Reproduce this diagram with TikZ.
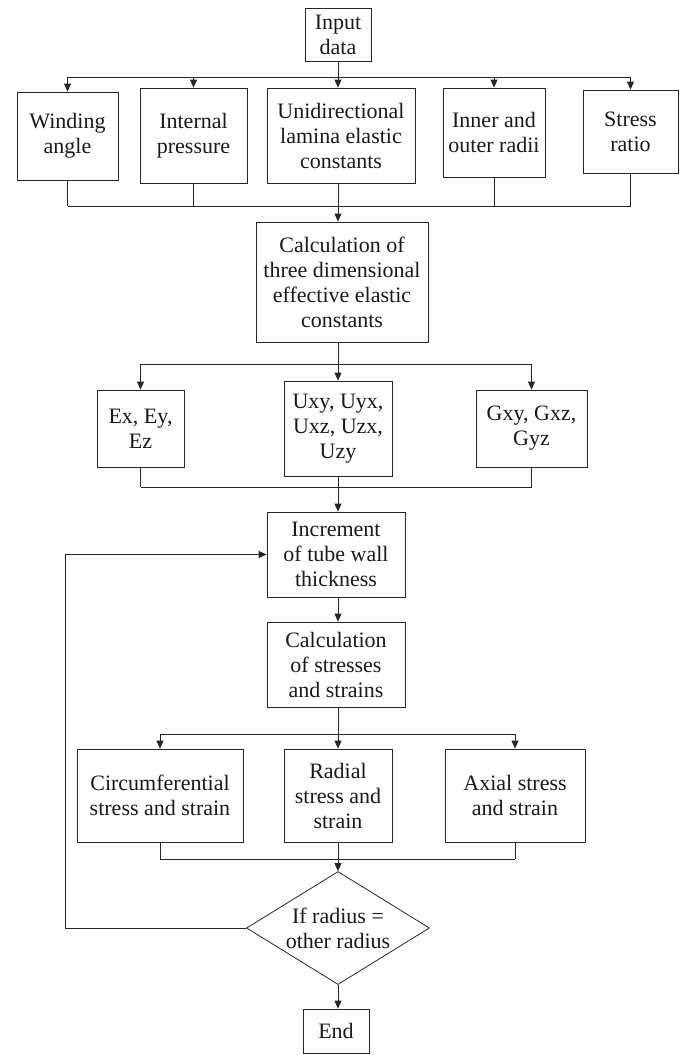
\documentclass[tikz,border=0pt]{standalone}
\usepackage{fontspec}
\setmainfont{Liberation Serif}
\usetikzlibrary{arrows.meta,shapes.geometric}
\begin{document}
\begin{tikzpicture}[x=1pt,y=-1pt,
  conn/.style={draw=black!85, line width=0.8pt},
  arr/.style={conn, -{Triangle[length=8pt,width=7pt]}},
  box/.style={draw=black!85, line width=0.8pt, rectangle, align=center, inner sep=0pt,
    font=\fontsize{22}{25}\selectfont, text=black!90},
  decbox/.style={draw=black!85, line width=0.8pt, diamond, inner sep=0pt,
    minimum width=183pt, minimum height=113pt},
  dectext/.style={align=center, inner sep=0pt, font=\fontsize{22}{25}\selectfont, text=black!90}]
\useasboundingbox (0,0) rectangle (687,1055);
% nodes
\node[box, minimum width=66pt, minimum height=53pt] (inp) at (338,34.5) {Input\\data};
\node[box, minimum width=101pt, minimum height=88pt] (wa) at (67.5,136) {Winding\\angle};
\node[box, minimum width=107pt, minimum height=95pt] (ip) at (193.5,135.5) {Internal\\pressure};
\node[box, minimum width=148pt, minimum height=95pt] (ul) at (341,135.5) {Unidirectional\\lamina elastic\\constants};
\node[box, minimum width=102pt, minimum height=89pt] (io) at (494,132.5) {Inner and\\outer radii};
\node[box, minimum width=95pt, minimum height=83pt] (sr) at (630.5,131.5) {Stress\\ratio};
\node[box, minimum width=172pt, minimum height=120pt] (calc) at (342,282) {Calculation of\\three dimensional\\effective elastic\\constants};
\node[box, minimum width=87pt, minimum height=77pt] (ex) at (140.5,428.5) {Ex, Ey,\\Ez};
\node[box, minimum width=108pt, minimum height=95pt] (uxy) at (338,428.5) {Uxy, Uyx,\\Uxz, Uzx,\\Uzy};
\node[box, minimum width=111pt, minimum height=77pt] (gxy) at (531.5,428.5) {Gxy, Gxz,\\Gyz};
\node[box, minimum width=138pt, minimum height=85pt] (inc) at (336,554.5) {Increment\\of tube wall\\thickness};
\node[box, minimum width=138pt, minimum height=85pt] (cs) at (336,664.5) {Calculation\\of stresses\\and strains};
\node[box, minimum width=166pt, minimum height=93pt] (circ) at (160,795.5) {Circumferential\\stress and strain};
\node[box, minimum width=108pt, minimum height=93pt] (rad) at (338,795.5) {Radial\\stress and\\strain};
\node[box, minimum width=140pt, minimum height=93pt] (ax) at (515,795.5) {Axial stress\\and strain};
\node[decbox] (dec) at (338,928) {};
\node[dectext] (dect) at (338,928) {If radius =\\other radius};
\node[box, minimum width=66pt, minimum height=44pt] (end) at (336,1031) {End};
% helper coordinates
\coordinate (d1) at (338,77);
\coordinate (c1) at (338,206);
\coordinate (d2) at (338,364);
\coordinate (c2) at (338,487);
\coordinate (d3) at (338,734);
\coordinate (c3) at (338,859);
\coordinate (lp) at (65,928);
% input distribution
\draw[conn] (d1 |- inp.south) -- (d1);
\draw[conn] (wa.north |- d1) -- (sr.north |- d1);
\foreach \n in {wa,ip,io,sr} \draw[arr] (\n.north |- d1) -- (\n.north);
\draw[arr] (d1) -- (d1 |- ul.north);
% collector 1
\foreach \n in {wa,ip,io,sr} \draw[conn] (\n.south) -- (\n.south |- c1);
\draw[conn] (c1 |- ul.south) -- (c1);
\draw[conn] (wa.south |- c1) -- (sr.south |- c1);
\draw[arr] (c1) -- (c1 |- calc.north);
% distribution 2
\draw[conn] (d2 |- calc.south) -- (d2);
\draw[conn] (ex.north |- d2) -- (gxy.north |- d2);
\draw[arr] (ex.north |- d2) -- (ex.north);
\draw[arr] (d2) -- (uxy.north);
\draw[arr] (gxy.north |- d2) -- (gxy.north);
% collector 2
\draw[conn] (ex.south) -- (ex.south |- c2);
\draw[conn] (uxy.south) -- (c2);
\draw[conn] (gxy.south) -- (gxy.south |- c2);
\draw[conn] (ex.south |- c2) -- (gxy.south |- c2);
\draw[arr] (c2) -- (c2 |- inc.north);
\draw[arr] (c2 |- inc.south) -- (c2 |- cs.north);
% distribution 3
\draw[conn] (d3 |- cs.south) -- (d3);
\draw[conn] (circ.north |- d3) -- (ax.north |- d3);
\draw[arr] (circ.north |- d3) -- (circ.north);
\draw[arr] (d3) -- (rad.north);
\draw[arr] (ax.north |- d3) -- (ax.north);
% collector 3
\draw[conn] (circ.south) -- (circ.south |- c3);
\draw[conn] (rad.south) -- (c3);
\draw[conn] (ax.south) -- (ax.south |- c3);
\draw[conn] (circ.south |- c3) -- (ax.south |- c3);
\draw[arr] (c3) -- (dec.north);
% decision
\draw[arr] (dec.south) -- (dec.south |- end.north);
\draw[arr] (dec.west) -- (lp) |- (inc.west);
\end{tikzpicture}
\end{document}
